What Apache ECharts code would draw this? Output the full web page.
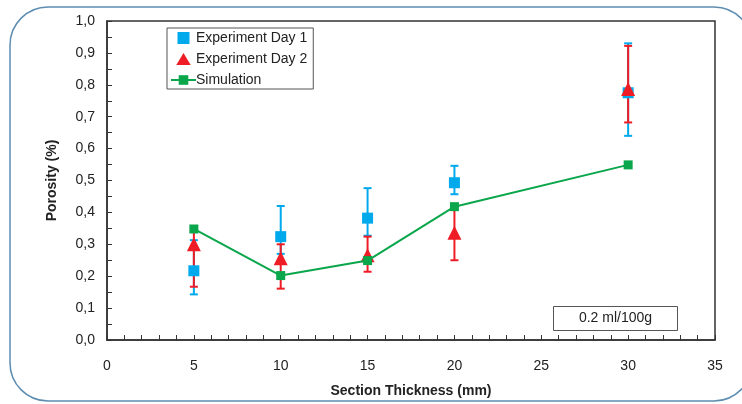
<!DOCTYPE html>
<html>
<head>
<meta charset="utf-8">
<script src="https://cdn.jsdelivr.net/npm/echarts@6/dist/echarts.min.js"></script>
<style>
  html, body { margin: 0; padding: 0; background: #fff; }
  #chart { width: 742px; height: 404px; }
</style>
</head>
<body>
<div id="chart"></div>
<script>
// thickness (mm)
var thickness = [5, 10, 15, 20, 30];
// Experiment Day 1: mean, low, high
var day1 = [0.217, 0.324, 0.382, 0.493, 0.775];
var day1Low = [0.143, 0.270, 0.327, 0.457, 0.640];
var day1High = [0.313, 0.420, 0.476, 0.546, 0.930];
// Experiment Day 2
var day2 = [0.300, 0.256, 0.266, 0.336, 0.787];
var day2Low = [0.167, 0.161, 0.214, 0.250, 0.682];
var day2High = [0.340, 0.300, 0.324, 0.420, 0.922];
// Simulation
var sim = [0.348, 0.202, 0.249, 0.418, 0.549];

var blue = '#00a9ec', red = '#ee1c25', green = '#0aa64b';

function pairs(ys) {
    return thickness.map(function (x, i) { return [x, ys[i]]; });
}
function bars(lo, hi) {
    return thickness.map(function (x, i) { return [x, lo[i], hi[i]]; });
}
function errorSeries(name, color, lo, hi) {
    return {
        name: name + ' err',
        type: 'custom',
        data: bars(lo, hi),
        renderItem: function (params, api) {
            var top = api.coord([api.value(0), api.value(2)]);
            var bot = api.coord([api.value(0), api.value(1)]);
            var w = 4;
            var style = { stroke: color, lineWidth: 2 };
            return {
                type: 'group',
                children: [
                    { type: 'line', shape: { x1: top[0], y1: top[1], x2: bot[0], y2: bot[1] }, style: style },
                    { type: 'line', shape: { x1: top[0] - w, y1: top[1], x2: top[0] + w, y2: top[1] }, style: style },
                    { type: 'line', shape: { x1: bot[0] - w, y1: bot[1], x2: bot[0] + w, y2: bot[1] }, style: style }
                ]
            };
        }
    };
}

var chart = echarts.init(document.getElementById('chart'));
var font = '"Liberation Sans", Arial, sans-serif';
var option = {
    animation: false,
    textStyle: { fontFamily: font },
    graphic: [
        {
            type: 'rect',
            shape: { x: 10, y: 7, width: 742, height: 394, r: 38 },
            style: { fill: 'none', stroke: '#5d8db1', lineWidth: 1.5 },
            z: -1
        },
        {
            type: 'group',
            left: 553, top: 306,
            children: [
                { type: 'rect', shape: { x: 0, y: 0, width: 124, height: 24 }, style: { fill: '#fff', stroke: '#555', lineWidth: 1 } },
                { type: 'text', x: 62, y: 12, style: { text: '0.2 ml/100g', fill: '#222', font: '14px ' + font, align: 'center', verticalAlign: 'middle' } }
            ]
        }
    ],
    legend: {
        orient: 'vertical',
        left: 167, top: 28,
        padding: [3, 6, 2, 3],
        itemGap: 7,
        itemWidth: 25,
        itemHeight: 12,
        borderColor: '#555',
        borderWidth: 1,
        borderRadius: 0,
        textStyle: { fontSize: 14, color: '#222', padding: [0, 0, 0, -5] },
        data: [
            { name: 'Experiment Day 1', icon: 'path://M0,0H10V10H0Z' },
            { name: 'Experiment Day 2', icon: 'path://M6,0L12,10H0Z' },
            { name: 'Simulation' }
        ]
    },
    grid: {
        left: 107, right: 27, top: 21, bottom: 64,
        show: true, borderColor: '#333', borderWidth: 1.5
    },
    xAxis: {
        type: 'value',
        min: 0, max: 35, interval: 5,
        name: 'Section Thickness (mm)',
        nameLocation: 'middle',
        nameGap: 44,
        nameTextStyle: { fontSize: 14, fontWeight: 'bold', color: '#222' },
        axisLine: { lineStyle: { color: '#333', width: 1.5 } },
        axisTick: { inside: true, length: 5, lineStyle: { color: '#333' } },
        minorTick: { show: true, splitNumber: 5, length: 5, lineStyle: { color: '#333' } },
        axisLabel: { fontSize: 14, color: '#222', margin: 19 },
        splitLine: { show: false }
    },
    yAxis: {
        type: 'value',
        min: 0, max: 1, interval: 0.1,
        name: 'Porosity (%)',
        nameLocation: 'middle',
        nameGap: 48,
        nameTextStyle: { fontSize: 14, fontWeight: 'bold', color: '#222' },
        axisLine: { show: true, lineStyle: { color: '#333', width: 1.5 } },
        axisTick: { show: true, inside: true, length: 5, lineStyle: { color: '#333' } },
        minorTick: { show: true, splitNumber: 2, length: 5, lineStyle: { color: '#333' } },
        axisLabel: {
            fontSize: 14, color: '#222', margin: 12,
            formatter: function (v) { return v.toFixed(1).replace('.', ','); }
        },
        splitLine: { show: false }
    },
    series: [
        errorSeries('Experiment Day 1', blue, day1Low, day1High),
        errorSeries('Experiment Day 2', red, day2Low, day2High),
        {
            name: 'Experiment Day 1',
            type: 'scatter',
            symbol: 'rect',
            symbolSize: 11,
            itemStyle: { color: blue, opacity: 1 },
            data: pairs(day1)
        },
        {
            name: 'Experiment Day 2',
            type: 'scatter',
            symbol: 'triangle',
            symbolSize: 14,
            itemStyle: { color: red, opacity: 1 },
            data: pairs(day2)
        },
        {
            name: 'Simulation',
            type: 'line',
            symbol: 'rect',
            symbolSize: 9,
            lineStyle: { color: green, width: 2 },
            itemStyle: { color: green },
            data: pairs(sim)
        }
    ]
};
chart.setOption(option);
</script>
</body>
</html>
